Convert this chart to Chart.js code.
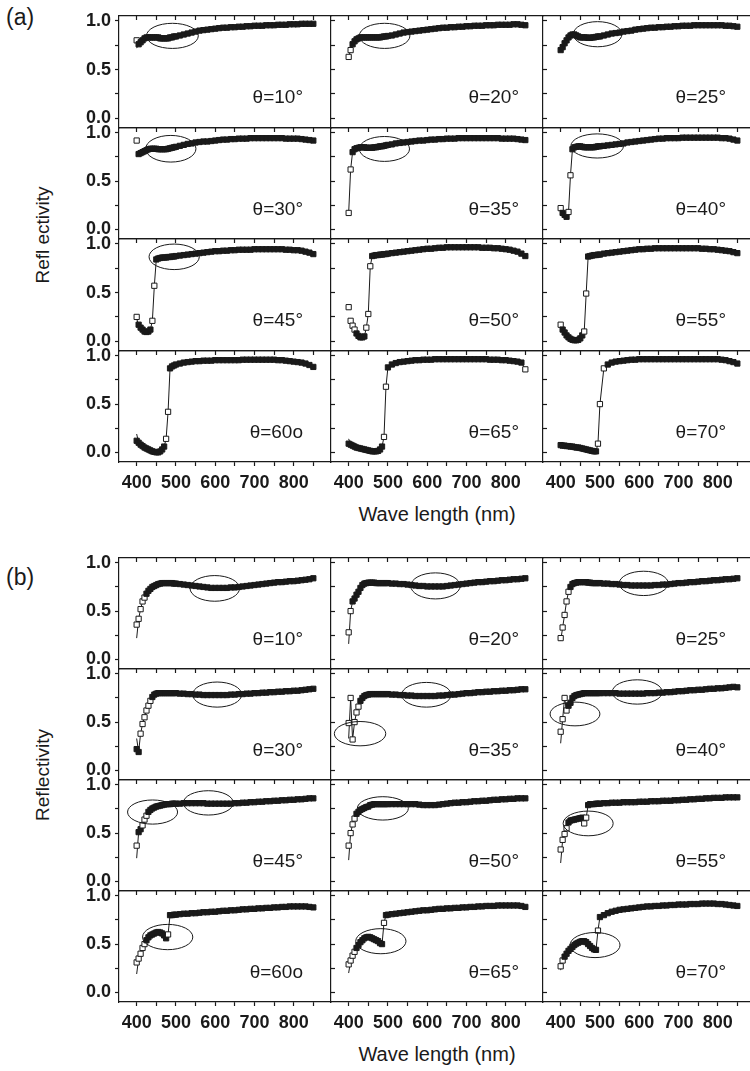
<!DOCTYPE html>
<html>
<head>
<meta charset="utf-8">
<script src="https://cdn.jsdelivr.net/npm/chart.js@4.4.1/dist/chart.umd.min.js"></script>
<style>
html,body{margin:0;padding:0;background:#fff;}
body{width:750px;height:1071px;overflow:hidden;position:relative;font-family:"Liberation Sans",Arial,sans-serif;color:#1a1a1a;}
canvas{position:absolute;}
.txt{position:absolute;white-space:nowrap;line-height:1;}
.ytitle{position:absolute;white-space:nowrap;line-height:1;font-size:19px;transform:translate(-50%,-50%) rotate(-90deg);}
.xtitle{position:absolute;white-space:nowrap;line-height:1;font-size:20px;transform:translateX(-50%);}
</style>
</head>
<body>
<div class="txt" style="left:6px;top:6px;font-size:23px">(a)</div>
<div class="txt" style="left:6px;top:566px;font-size:23px">(b)</div>
<div class="ytitle" style="left:42px;top:235px">Refl ectivity</div>
<div class="ytitle" style="left:42px;top:775px">Reflectivity</div>
<div class="xtitle" style="left:437px;top:504px">Wave length (nm)</div>
<div class="xtitle" style="left:437px;top:1044px">Wave length (nm)</div>
<script>
// ---------------- data ----------------
const WAVELENGTH = [400,405,410,415,420,425,430,435,440,445,450,455,460,465,470,475,480,485,490,495,500,
  510,520,530,540,550,560,570,580,590,600,610,620,630,640,650,660,670,680,690,700,
  710,720,730,740,750,760,770,780,790,800,810,820,830,840,850];
const X_TICKS = [400,450,500,550,600,650,700,750,800,850];
const X_LABELED = [400,500,600,700,800];
const Y_TICKS = [0,0.25,0.5,0.75,1.0];
const Y_LABELED = [0,0.5,1.0];
const ANGLE_LABELS = ['θ=10°','θ=20°','θ=25°','θ=30°','θ=35°','θ=40°','θ=45°','θ=50°','θ=55°','θ=60o','θ=65°','θ=70°'];

// panel (a)
const A10 = [.80,.76,.78,.80,.82,.83,.83,.83,.83,.83,.83,.83,.82,.82,.82,.82,.82,.83,.83,.84,.84,
  .85,.86,.87,.88,.89,.90,.905,.91,.915,.92, .925,.93,.93,.935,.935,.94,.94,.945,.945,.95,
  .95,.95,.955,.955,.955,.96,.96,.96,.965,.965, .965,.97,.97,.97,.97];
const A20 = [.63,.70,.76,.79,.81,.82,.83,.83,.83,.83,.83,.83,.83,.83,.83,.83,.83,.835,.84,.84,.845,
  .85,.86,.87,.88,.885,.89,.895,.90,.905,.91, .915,.92,.925,.93,.93,.935,.935,.94,.94,.945,
  .945,.95,.95,.95,.955,.955,.955,.96,.96,.96, .96,.965,.965,.96,.955];
const A25 = [.70,.73,.77,.80,.83,.85,.86,.86,.85,.84,.83,.83,.83,.83,.825,.825,.83,.83,.835,.84,.84,
  .85,.86,.87,.875,.88,.89,.895,.90,.91,.915, .92,.925,.93,.93,.935,.935,.94,.94,.945,.945,
  .95,.95,.95,.955,.955,.955,.955,.955,.955,.955, .955,.95,.95,.945,.94];
const A30 = [.92,.78,.79,.80,.81,.82,.83,.835,.835,.835,.835,.83,.83,.83,.83,.83,.835,.84,.845,.85,.855,
  .865,.875,.885,.89,.90,.905,.91,.91,.915,.92, .925,.93,.93,.935,.935,.94,.94,.94,.945,.945,
  .945,.945,.945,.945,.945,.945,.945,.94,.94,.94, .94,.935,.93,.925,.92];
const A35 = [.17,.62,.80,.83,.84,.845,.85,.85,.85,.845,.845,.845,.845,.85,.85,.855,.86,.86,.865,.87,.875,
  .88,.89,.895,.90,.905,.91,.915,.92,.92,.925, .93,.93,.935,.935,.94,.94,.94,.945,.945,.945,
  .945,.945,.945,.945,.945,.945,.945,.945,.94,.94, .94,.94,.935,.93,.925];
const A40 = [.22,.17,.15,.13,.18,.56,.83,.85,.855,.86,.86,.855,.85,.85,.85,.85,.85,.85,.855,.86,.86,
  .865,.87,.875,.88,.885,.89,.90,.905,.91,.915, .92,.925,.93,.935,.94,.94,.945,.945,.945,.945,
  .95,.95,.95,.95,.95,.95,.95,.95,.95,.95, .945,.945,.94,.93,.92];
const A45 = [.25,.17,.14,.12,.10,.095,.10,.12,.21,.57,.84,.85,.855,.86,.86,.86,.865,.865,.87,.87,.875,
  .88,.885,.89,.895,.90,.905,.91,.915,.92,.925, .925,.93,.93,.935,.935,.94,.94,.94,.94,.945,
  .945,.945,.945,.945,.945,.945,.945,.94,.94,.935, .935,.93,.92,.91,.895];
const A50 = [.35,.21,.16,.12,.08,.055,.04,.04,.05,.14,.28,.77,.875,.88,.885,.885,.89,.89,.895,.895,.90,
  .905,.91,.915,.92,.925,.93,.935,.94,.945,.95, .95,.955,.96,.96,.965,.965,.965,.965,.965,.965,
  .965,.965,.965,.96,.96,.96,.955,.955,.95,.945, .94,.93,.92,.90,.875];
const A55 = [.17,.12,.09,.06,.04,.025,.015,.01,.01,.015,.03,.06,.10,.49,.87,.875,.88,.885,.885,.89,.89,
  .90,.905,.91,.915,.92,.925,.93,.935,.94,.945, .945,.95,.95,.955,.955,.955,.955,.955,.955,.955,
  .955,.955,.955,.955,.955,.95,.95,.945,.945,.94, .935,.93,.925,.915,.905];
const A60 = [.12,.10,.08,.065,.05,.04,.03,.02,.01,.005,0,0,.01,.03,.06,.14,.42,.87,.89,.90,.91,
  .92,.93,.935,.94,.945,.945,.95,.95,.95,.955, .955,.955,.955,.955,.955,.955,.96,.96,.96,.96,
  .96,.96,.96,.96,.96,.955,.955,.95,.945,.94, .935,.93,.92,.905,.885];
const A65 = [.09,.08,.07,.06,.05,.045,.04,.035,.03,.025,.02,.015,.01,.01,.01,.015,.03,.06,.16,.68,.88,
  .91,.925,.935,.94,.945,.95,.955,.955,.96,.96, .96,.965,.965,.965,.965,.965,.965,.965,.965,.965,
  .965,.965,.965,.965,.965,.96,.96,.96,.955,.955, .95,.945,.94,.93,.86];
const A70 = [.075,.07,.07,.065,.065,.06,.06,.055,.05,.05,.045,.04,.035,.03,.025,.02,.015,.01,.01,.09,.50,
  .87,.91,.93,.94,.945,.95,.955,.96,.96,.965, .965,.965,.965,.965,.965,.965,.965,.965,.965,.965,
  .965,.965,.965,.965,.965,.965,.965,.965,.965,.965, .96,.955,.945,.935,.92];

// panel (b)
const B10 = [.36,.42,.52,.60,.64,.68,.71,.73,.75,.76,.77,.78,.785,.79,.79,.79,.79,.79,.79,.785,.785,
  .78,.775,.77,.765,.76,.755,.75,.745,.74,.74, .74,.74,.74,.745,.745,.75,.755,.76,.765,.77,
  .775,.78,.785,.79,.795,.80,.80,.805,.81,.81, .815,.82,.825,.83,.84];
const B20 = [.28,.50,.60,.63,.67,.70,.74,.77,.785,.79,.795,.795,.795,.795,.79,.79,.79,.79,.79,.79,.79,
  .785,.785,.78,.78,.775,.77,.765,.76,.76,.755, .755,.755,.755,.755,.76,.765,.77,.775,.78,.785,
  .79,.795,.80,.80,.805,.81,.81,.815,.82,.82, .825,.83,.83,.835,.84];
const B25 = [.22,.33,.46,.60,.70,.75,.78,.79,.795,.80,.80,.80,.80,.80,.795,.795,.79,.79,.79,.79,.79,
  .785,.785,.78,.78,.775,.77,.77,.765,.765,.765, .765,.765,.765,.77,.77,.775,.775,.78,.785,.79,
  .79,.795,.80,.80,.805,.81,.81,.815,.82,.82, .825,.83,.83,.835,.84];
const B30 = [.22,.19,.38,.48,.55,.62,.67,.72,.76,.785,.795,.80,.80,.80,.80,.80,.80,.80,.80,.80,.80,
  .795,.795,.79,.79,.785,.785,.78,.78,.78,.78, .78,.78,.78,.785,.785,.79,.79,.795,.795,.80,
  .80,.805,.805,.81,.81,.815,.815,.82,.82,.825, .825,.83,.835,.84,.845];
const B35 = [.49,.75,.32,.50,.60,.66,.72,.75,.77,.78,.785,.79,.79,.79,.79,.79,.79,.79,.79,.79,.79,
  .785,.785,.78,.78,.775,.775,.77,.77,.77,.77, .77,.77,.775,.775,.78,.785,.785,.79,.795,.80,
  .80,.805,.81,.81,.815,.815,.82,.82,.825,.825, .83,.83,.835,.84,.84];
const B40 = [.40,.53,.75,.62,.67,.70,.75,.77,.78,.785,.79,.795,.80,.80,.80,.80,.80,.80,.80,.80,.80,
  .80,.80,.80,.80,.795,.795,.795,.795,.795,.795, .795,.80,.80,.80,.805,.805,.81,.81,.815,.82,
  .82,.825,.83,.83,.835,.835,.84,.845,.845,.85, .85,.855,.86,.865,.86];
const B45 = [.37,.51,.54,.58,.64,.68,.72,.74,.755,.765,.775,.78,.785,.79,.795,.80,.80,.80,.805,.805,.805,
  .805,.81,.81,.81,.81,.81,.81,.805,.805,.805, .805,.805,.805,.805,.81,.81,.815,.815,.82,.82,
  .825,.825,.83,.83,.835,.835,.84,.84,.845,.845, .85,.85,.855,.86,.86];
const B50 = [.37,.50,.59,.65,.70,.72,.74,.75,.76,.77,.775,.79,.795,.80,.80,.80,.80,.80,.80,.80,.80,
  .80,.80,.80,.80,.80,.80,.80,.795,.79,.79, .79,.79,.795,.80,.805,.81,.815,.815,.82,.82,
  .825,.83,.83,.835,.835,.84,.845,.845,.85,.85, .855,.855,.86,.86,.86];
const B55 = [.33,.43,.49,.55,.61,.63,.635,.64,.645,.65,.655,.66,.60,.66,.79,.80,.80,.80,.805,.805,.805,
  .81,.81,.815,.815,.815,.82,.82,.82,.82,.825, .825,.825,.83,.83,.83,.835,.835,.835,.84,.84,
  .845,.845,.85,.85,.855,.855,.86,.86,.865,.865, .865,.87,.87,.87,.87];
const B60 = [.31,.35,.40,.46,.50,.54,.57,.59,.60,.61,.62,.625,.62,.61,.59,.56,.60,.80,.80,.805,.805,
  .81,.815,.815,.82,.82,.825,.83,.83,.835,.835, .84,.845,.845,.85,.85,.855,.86,.86,.865,.865,
  .87,.87,.875,.875,.88,.88,.885,.885,.89,.89, .89,.89,.89,.885,.88];
const B65 = [.29,.33,.38,.42,.46,.49,.52,.54,.56,.57,.575,.57,.56,.55,.54,.53,.51,.50,.72,.80,.805,
  .81,.815,.82,.825,.83,.835,.84,.845,.85,.85, .855,.86,.865,.865,.87,.87,.875,.875,.88,.88,
  .885,.885,.89,.89,.895,.895,.895,.90,.90,.90, .90,.90,.90,.895,.885];
const B70 = [.27,.33,.37,.40,.43,.45,.47,.49,.505,.515,.525,.53,.53,.52,.50,.48,.46,.445,.44,.64,.78,
  .80,.82,.835,.845,.855,.86,.865,.87,.875,.88, .885,.89,.89,.895,.895,.90,.90,.905,.905,.91,
  .91,.91,.915,.915,.915,.92,.92,.92,.92,.915, .915,.91,.905,.90,.895];

// start value of the fitted (solid) curve at 400 nm
const FIT_START_A = [0.72,0.63,0.70,0.78,0.17,0.22,0.23,0.22,0.17,0.19,0.14,0.075];
const FIT_START_B = [0.22,0.16,0.19,0.33,0.33,0.28,0.24,0.22,0.19,0.19,0.20,0.23];

// highlighted regions: [centre nm, centre reflectivity, half-width nm, half-height]
const ELLIPSES_A = [
  [[491,0.846,66,0.129]], [[491.5,0.846,64.5,0.129]], [[494,0.863,62,0.129]],
  [[487,0.835,64,0.138]], [[491,0.833,64,0.129]], [[493,0.864,67,0.125]],
  [[495.5,0.867,64,0.131]], [], [],
  [], [], []
];
const ELLIPSES_B = [
  [[599,0.735,63,0.133]], [[621,0.761,63,0.135]], [[611.5,0.787,62.5,0.126]],
  [[605,0.785,62.4,0.13]], [[598,0.783,63,0.128],[429,0.38,65.5,0.126]], [[436.5,0.584,63.5,0.123],[595,0.812,63.7,0.126]],
  [[440.5,0.718,63.7,0.125],[582.5,0.813,63.7,0.126]], [[487,0.756,65,0.121]], [[470,0.60,63.7,0.128]],
  [[479,0.573,64,0.131]], [[482,0.53,64,0.13]], [[487.5,0.49,63.7,0.13]]
];

const SERIES_A = [A10,A20,A25,A30,A35,A40,A45,A50,A55,A60,A65,A70];
const SERIES_B = [B10,B20,B25,B30,B35,B40,B45,B50,B55,B60,B65,B70];

// ---------------- layout ----------------
const COL_X = [119,331,543,755];
const LABEL_RIGHT = [184,188,183];
const INK = '#1a1a1a';
const FONT = '"Liberation Sans", Arial, sans-serif';

const ellipsePlugin = {
  id: 'ellipses',
  afterDatasetsDraw(chart, args, opts) {
    const ctx = chart.ctx, xs = chart.scales.x, ys = chart.scales.y;
    ctx.save();
    ctx.strokeStyle = INK; ctx.lineWidth = 1;
    (opts.items || []).forEach(([cx, cy, rx, ry]) => {
      const px = xs.getPixelForValue(cx), py = ys.getPixelForValue(cy);
      const prx = Math.abs(xs.getPixelForValue(cx + rx) - px);
      const pry = Math.abs(ys.getPixelForValue(cy + ry) - py);
      ctx.beginPath();
      ctx.ellipse(px, py, prx, pry, 0, 0, Math.PI * 2);
      ctx.stroke();
    });
    ctx.restore();
  }
};
const anglePlugin = {
  id: 'angleLabel',
  afterDraw(chart, args, opts) {
    const ctx = chart.ctx, a = chart.chartArea;
    ctx.save();
    ctx.fillStyle = INK;
    ctx.font = '19px ' + FONT;
    ctx.textAlign = 'right';
    ctx.textBaseline = 'alphabetic';
    ctx.fillText(opts.text, a.left + opts.right, a.top + 87);
    ctx.restore();
  }
};

function pointFill(ctx) {
  const d = ctx.dataset.data, i = ctx.dataIndex;
  if (!d[i]) return INK;
  const v = d[i].y;
  const a = i > 0 ? Math.abs(v - d[i-1].y) : 1;
  const b = i < d.length - 1 ? Math.abs(d[i+1].y - v) : 1;
  return Math.min(a, b) > 0.035 ? '#ffffff' : INK;
}

function noPad(s) { s.paddingTop = 0; s.paddingBottom = 0; s.paddingLeft = 0; s.paddingRight = 0; }

function makeChart(rows, r, c, values, fitStart, ellipses, label) {
  const top = rows[r], bottom = rows[r+1];
  const left = COL_X[c], right = COL_X[c+1];
  const PADL = 40, PADT = 12, PADR = 6;
  const isBottom = r === 3, isLeft = c === 0;
  const PADB = isBottom ? 44 : 6;
  const w = right - left + PADL + PADR, h = bottom - top + PADT + PADB;
  const cv = document.createElement('canvas');
  cv.width = w; cv.height = h;
  cv.style.width = w + 'px'; cv.style.height = h + 'px';
  cv.style.left = (left - PADL) + 'px'; cv.style.top = (top - PADT) + 'px';
  document.body.appendChild(cv);

  const measured = WAVELENGTH.map((x, i) => ({x: x, y: values[i]}));
  const fitted = WAVELENGTH.map((x, i) => ({x: x, y: i === 0 ? fitStart : values[i]}));

  const borderOpt = {display: true, color: INK, width: 1.2};
  const tickFont = {family: FONT, size: 18, weight: 'bold'};

  new Chart(cv, {
    type: 'scatter',
    data: {
      datasets: [
        {data: measured, showLine: false, pointStyle: 'rect', pointRadius: 3.7,
         borderWidth: 1, borderColor: INK, backgroundColor: pointFill, pointBackgroundColor: pointFill},
        {data: fitted, showLine: true, pointRadius: 0, borderWidth: 1, borderColor: INK, fill: false, tension: 0}
      ]
    },
    options: {
      responsive: false, animation: false, devicePixelRatio: 1, events: [],
      layout: {autoPadding: false, padding: {top: PADT, right: PADR, left: 0, bottom: 0}},
      plugins: {
        legend: {display: false}, tooltip: {enabled: false},
        ellipses: {items: ellipses},
        angleLabel: {text: label, right: LABEL_RIGHT[c]}
      },
      scales: {
        x: {
          type: 'linear', position: 'bottom', min: 355, max: 895,
          afterFit: s => { s.height = PADB; noPad(s); },
          afterBuildTicks: s => { s.ticks = X_TICKS.map(v => ({value: v})); },
          grid: {drawOnChartArea: false, drawTicks: isBottom, tickLength: 4, tickColor: INK, tickWidth: 1.2},
          border: borderOpt,
          ticks: {display: isBottom, autoSkip: false, maxRotation: 0, padding: 6, color: INK, font: tickFont,
                  callback: v => X_LABELED.includes(v) ? String(v) : ''}
        },
        xTop: {
          axis: 'x', type: 'linear', position: 'top', min: 355, max: 895,
          afterFit: s => { s.height = 0; noPad(s); },
          afterBuildTicks: s => { s.ticks = X_TICKS.map(v => ({value: v})); },
          grid: {drawOnChartArea: false, drawTicks: true, tickLength: -4, tickColor: INK, tickWidth: 1.2},
          border: borderOpt,
          ticks: {display: false}
        },
        y: {
          type: 'linear', position: 'left', min: -0.1, max: 1.05,
          afterFit: s => { s.width = PADL; noPad(s); },
          afterBuildTicks: s => { s.ticks = Y_TICKS.map(v => ({value: v})); },
          grid: {drawOnChartArea: false, drawTicks: true, tickLength: isLeft ? 4 : -4, tickColor: INK, tickWidth: 1.2},
          border: borderOpt,
          ticks: {display: isLeft, padding: 4, color: INK, font: tickFont,
                  callback: v => Y_LABELED.includes(v) ? v.toFixed(1) : ''}
        }
      }
    },
    plugins: [ellipsePlugin, anglePlugin]
  });
}

const PANELS = [
  {rows: [16,128,239,351,462], series: SERIES_A, fit: FIT_START_A, ellipses: ELLIPSES_A},
  {rows: [558,669,780,891,1002], series: SERIES_B, fit: FIT_START_B, ellipses: ELLIPSES_B}
];
PANELS.forEach(p => {
  for (let k = 0; k < 12; k++) {
    const r = Math.floor(k / 3), c = k % 3;
    makeChart(p.rows, r, c, p.series[k], p.fit[k], p.ellipses[k], ANGLE_LABELS[k]);
  }
});
</script>
</body>
</html>
